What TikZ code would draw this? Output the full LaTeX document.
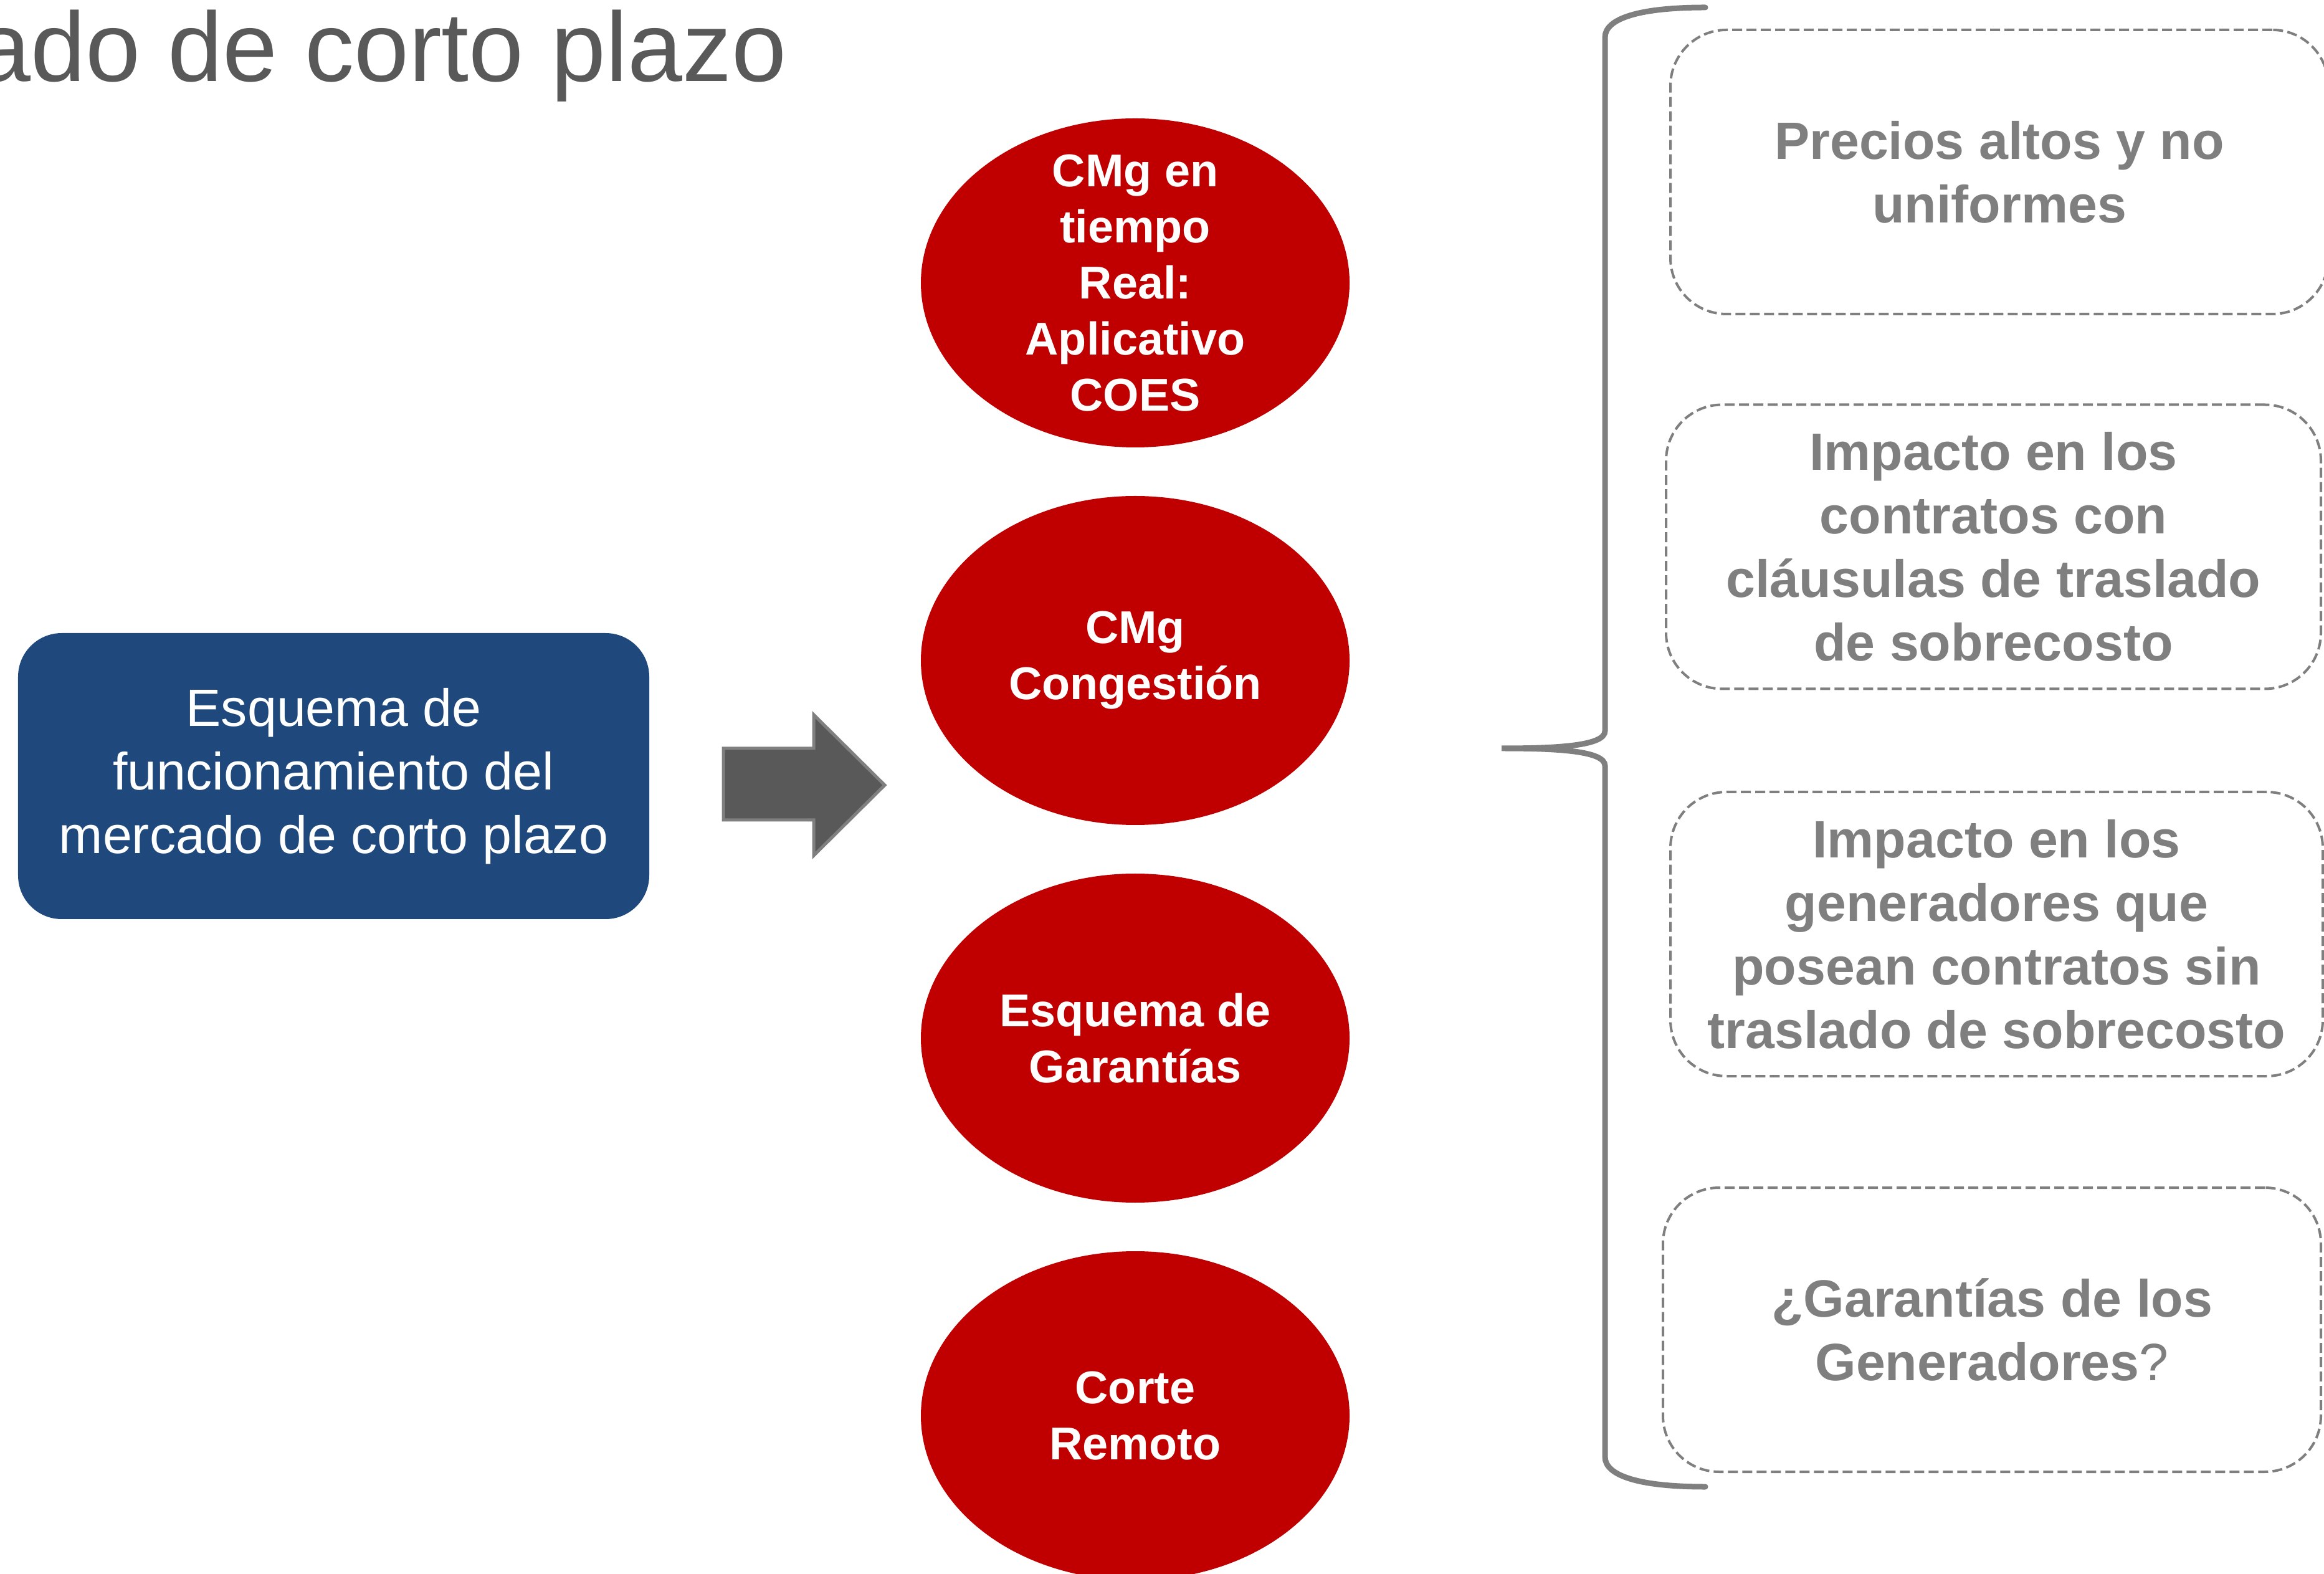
\documentclass[tikz,border=0pt]{standalone}
\usepackage{fontspec}
\setmainfont{Liberation Sans}
\usetikzlibrary{shapes.geometric}
\definecolor{coesred}{HTML}{C00000}
\definecolor{coesblue}{HTML}{1F497D}
\definecolor{midgray}{HTML}{7F7F7F}
\definecolor{darkgray}{HTML}{595959}

\begin{document}
\begin{tikzpicture}[bluebox/.style={fill=coesblue,rounded corners=0.7cm,minimum width=10.13cm,minimum height=4.59cm,text=white,align=center,font=\fontsize{24}{29}\selectfont},
	redoval/.style={ellipse,fill=coesred,minimum width=6.88cm,minimum height=5.28cm,inner sep=0pt,text=white,align=center,font=\bfseries\fontsize{21}{25.6}\selectfont},
	dashbox/.style={draw=midgray,dash pattern=on 0.16cm off 0.07cm,line width=0.04cm,rounded corners=0.9cm,minimum width=10.56cm,minimum height=4.56cm,text=midgray,align=center,font=\bfseries\fontsize{24}{29}\selectfont}]
\useasboundingbox (0,0) rectangle (37.30,25.25);

\node[anchor=base west,inner sep=0pt,text=darkgray,font=\fontsize{45}{54}\selectfont] (title) at (-0.39,23.94) {ado de corto plazo};

\node[bluebox] (esquema) at (5.355,12.795) {Esquema de\\funcionamiento del\\mercado de corto plazo};

\fill[darkgray,draw=midgray,line width=0.05cm] (11.61,13.24) -- (13.06,13.24) -- (13.06,13.78) -- (14.20,12.65) -- (13.06,11.52) -- (13.06,12.09) -- (11.61,12.09) -- cycle;

\node[redoval,inner ysep=-0.45cm] (cmgreal) at (18.22,20.71) {CMg en\\tiempo\\Real:\\Aplicativo\\COES};
\node[redoval] (cmgcong) at (18.22,14.65) {CMg\\Congestión};
\node[redoval] (garantias) at (18.22,8.59) {Esquema de\\Garantías};
\node[redoval] (corte) at (18.22,2.53) {Corte\\Remoto};

\draw[midgray,line width=0.09cm,line cap=round] (27.37,25.13) .. controls (26.3,25.13) and (25.76,24.95) .. (25.76,24.65) -- (25.76,13.52) .. controls (25.76,13.28) and (25.0,13.24) .. (24.10,13.24) .. controls (25.0,13.24) and (25.76,13.20) .. (25.76,12.96) -- (25.76,1.87) .. controls (25.76,1.57) and (26.3,1.39) .. (27.37,1.39);

\node[dashbox] (precios) at (32.09,22.49) {Precios altos y no\\uniformes};
\node[dashbox,minimum width=10.51cm] (contratos) at (31.995,16.475) {Impacto en los\\contratos con\\cláusulas de traslado\\de sobrecosto};
\node[dashbox,minimum width=10.47cm] (generadores) at (32.045,10.26) {Impacto en los\\generadores que\\posean contratos sin\\traslado de sobrecosto};
\node[dashbox] (preguntas) at (31.97,3.91) {¿Garantías de los\\Generadores{\mdseries ?}};

\end{tikzpicture}
\end{document}
